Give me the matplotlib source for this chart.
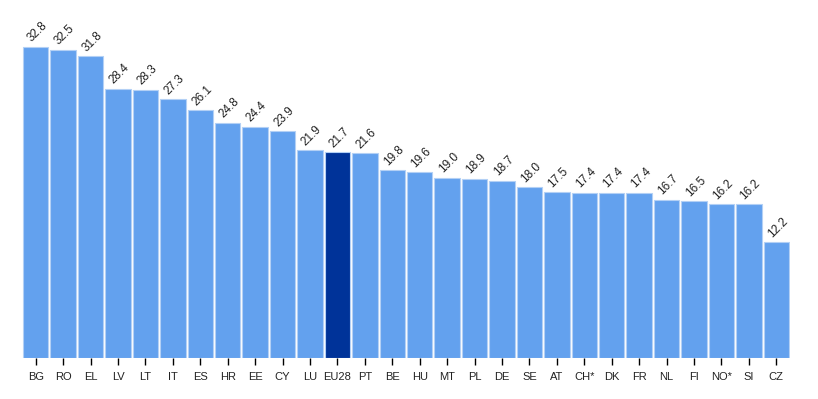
import matplotlib.pyplot as plt
import numpy as np

plt.rcParams['font.family'] = ['Liberation Sans', 'DejaVu Sans']

countries = ['BG', 'RO', 'EL', 'LV', 'LT', 'IT', 'ES', 'HR', 'EE', 'CY', 'LU', 'EU28', 'PT',
             'BE', 'HU', 'MT', 'PL', 'DE', 'SE', 'AT', 'CH*', 'DK', 'FR', 'NL', 'FI', 'NO*',
             'SI', 'CZ']
values = [32.8, 32.5, 31.8, 28.4, 28.3, 27.3, 26.1, 24.8, 24.4, 23.9, 21.9, 21.7, 21.6,
          19.8, 19.6, 19.0, 18.9, 18.7, 18.0, 17.5, 17.4, 17.4, 17.4, 16.7, 16.5, 16.2,
          16.2, 12.2]

light = '#63a1ee'
dark = '#003399'
colors = [dark if c == 'EU28' else light for c in countries]

fig = plt.figure(figsize=(8.18, 3.99), dpi=100)
ax = fig.add_axes([22 / 818, 41 / 399, 768 / 818, 332 / 399])

x = np.arange(len(countries))
ax.bar(x, values, width=0.93, color=colors, edgecolor='#b3d0f5', linewidth=0.8)

for xi, v in zip(x, values):
    ax.text(xi - 0.08, v + 0.25, f'{v:.1f}', rotation=45, rotation_mode='anchor',
            ha='left', va='bottom', fontsize=8.5, color='#222222')

ax.set_xlim(-0.5, len(countries) - 0.5)
ax.set_ylim(0, 35)
ax.set_xticks(x)
ax.set_xticklabels(countries, fontsize=8, color='#222222')
ax.tick_params(axis='x', length=5, width=1, color='black', pad=5)
ax.set_yticks([])
for s in ax.spines.values():
    s.set_visible(False)

fig.savefig('out.png', dpi=100)
